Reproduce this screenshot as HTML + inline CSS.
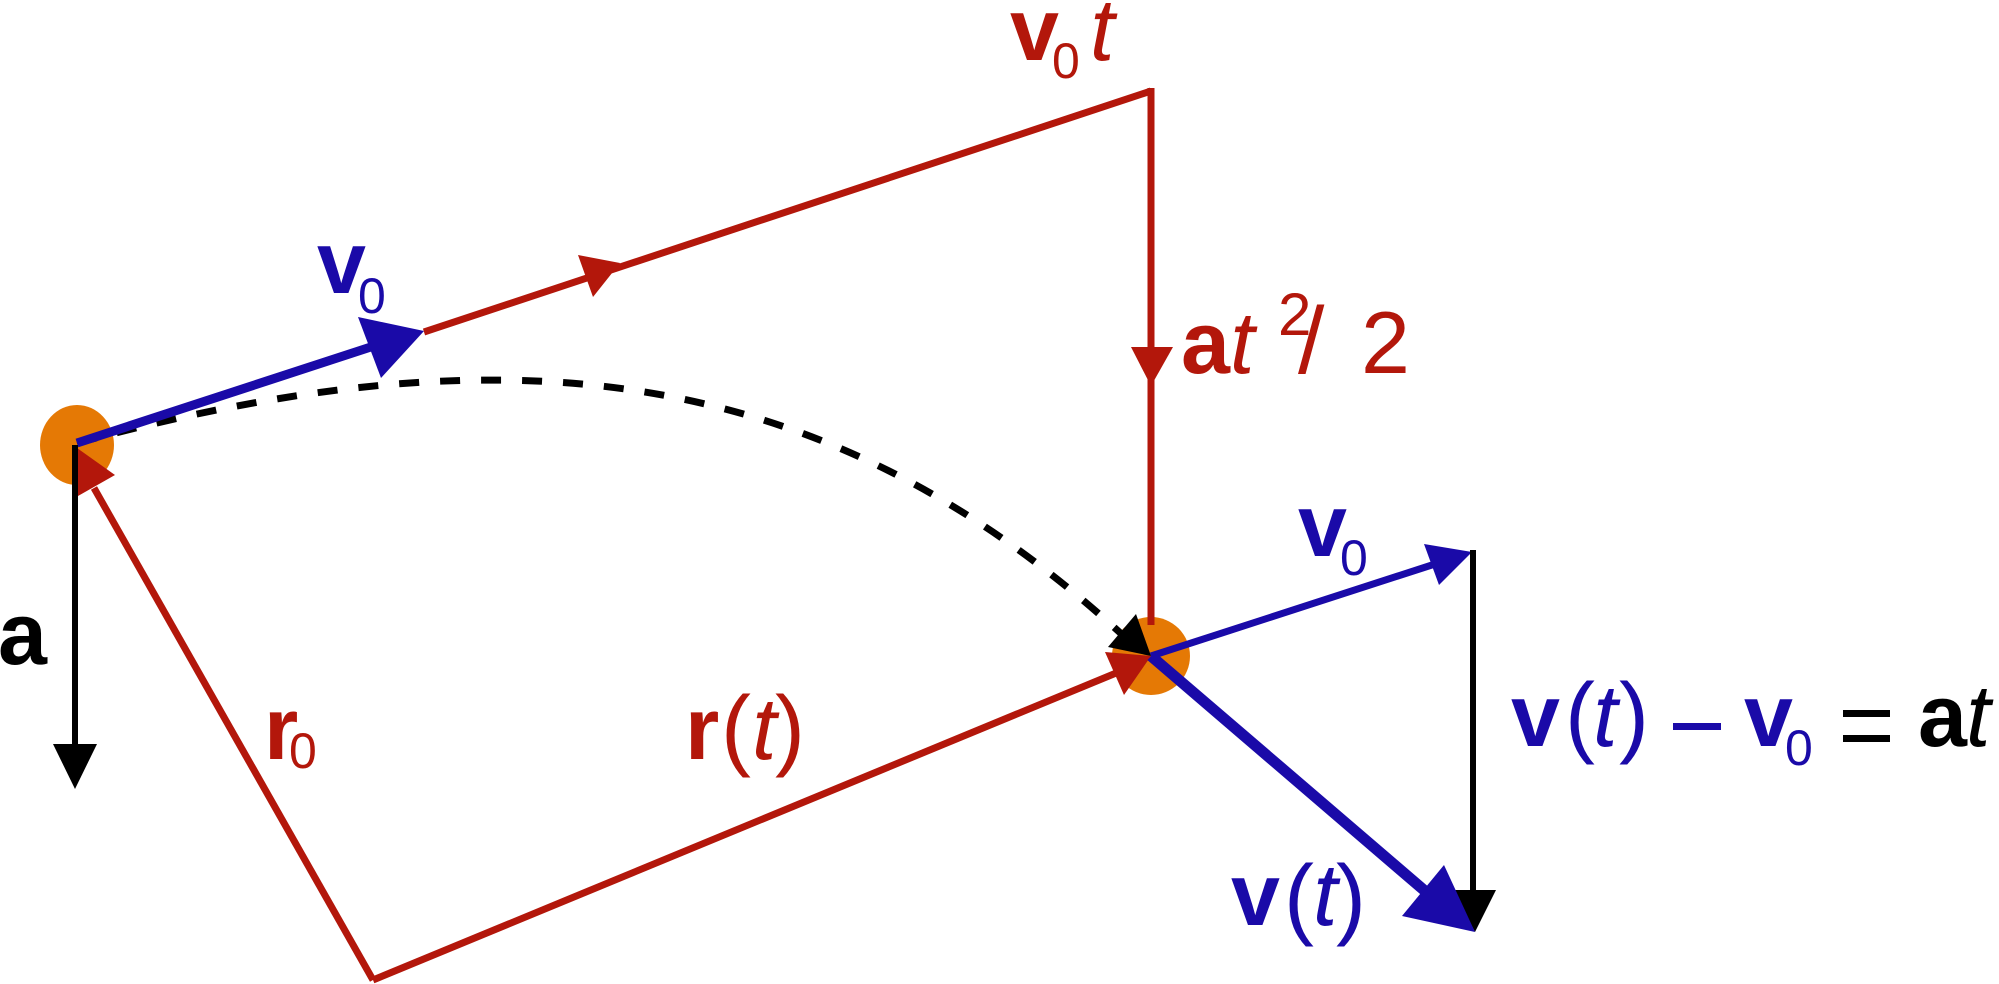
<!DOCTYPE html>
<html><head><style>html,body{margin:0;padding:0;background:#fff;overflow:hidden}svg{display:block}</style></head>
<body>
<svg width="1999" height="984" viewBox="0 0 1999 984" xmlns="http://www.w3.org/2000/svg" font-family="Liberation Sans, sans-serif">
<!-- particles -->
<ellipse cx="77" cy="445" rx="37" ry="40" fill="#e57905"/>
<circle cx="1151" cy="656" r="39" fill="#e57905"/>
<!-- v0 t red -->
<line x1="424" y1="332" x2="1151" y2="91" stroke="#b3170b" stroke-width="7"/>
<polygon points="578,255 593,297 620,263" fill="#b3170b"/>
<!-- at^2/2 vertical -->
<line x1="1151" y1="88" x2="1151" y2="625" stroke="#b3170b" stroke-width="7"/>
<polygon points="1131,347 1173,347 1151,386" fill="#b3170b"/>
<!-- r0 -->
<line x1="373" y1="980" x2="94" y2="488" stroke="#b3170b" stroke-width="7"/>
<polygon points="77,448 115,475 78,496" fill="#b3170b"/>
<!-- r(t) -->
<line x1="373" y1="980" x2="1121" y2="671" stroke="#b3170b" stroke-width="7"/>
<polygon points="1105,652 1124,695 1151,656" fill="#b3170b"/>
<!-- dashed trajectory -->
<path d="M77,443 C480,335 810,345 1128,640" fill="none" stroke="#000" stroke-width="7" stroke-dasharray="20,21"/>
<polygon points="1108,647 1136,614 1151,656" fill="#000"/>
<!-- blue v0 at start -->
<line x1="77" y1="443" x2="380" y2="344" stroke="#1a0aa8" stroke-width="9"/>
<polygon points="358,317 381,378 424,331" fill="#1a0aa8"/>
<!-- a black -->
<line x1="75" y1="445" x2="75" y2="750" stroke="#000" stroke-width="6"/>
<polygon points="53,744 97,744 75,789" fill="#000"/>
<!-- v0 at end -->
<line x1="1151" y1="656" x2="1435" y2="564" stroke="#1a0aa8" stroke-width="7"/>
<polygon points="1424,544 1439,585 1472,552" fill="#1a0aa8"/>
<!-- black vertical -->
<line x1="1473" y1="550" x2="1473" y2="895" stroke="#000" stroke-width="6"/>
<polygon points="1453,890 1496,890 1475,932" fill="#000"/>
<!-- v(t) thick blue -->
<line x1="1151" y1="656" x2="1425" y2="891" stroke="#1a0aa8" stroke-width="11"/>
<polygon points="1402,916 1444,865 1475,932" fill="#1a0aa8"/>

<!-- labels -->
<g font-size="88" font-weight="bold">
<text x="1010" y="60" fill="#b3170b">v</text>
<text x="317" y="293" fill="#1a0aa8">v</text>
<text x="1298" y="556" fill="#1a0aa8">v</text>
<text x="-2" y="664" fill="#000">a</text>
<text x="264" y="759" fill="#b3170b">r</text>
<text x="685" y="759" fill="#b3170b">r</text>
<text x="1181" y="373" fill="#b3170b">a</text>
<text x="1511" y="746" fill="#1a0aa8">v</text>
<text x="1744" y="746" fill="#1a0aa8">v</text>
<text x="1918" y="746" fill="#000">a</text>
<text x="1231" y="925" fill="#1a0aa8">v</text>
</g>
<g font-size="50">
<text x="1052" y="78" fill="#b3170b">0</text>
<text x="358" y="313" fill="#1a0aa8">0</text>
<text x="1340" y="575" fill="#1a0aa8">0</text>
<text x="289" y="768" fill="#b3170b">0</text>
<text x="1785" y="765" fill="#1a0aa8">0</text>
</g>
<g font-size="88" font-style="italic">
<text x="1090" y="60" fill="#b3170b">t</text>
<text x="1230" y="373" fill="#b3170b">t</text>
<text x="752" y="759" fill="#b3170b">t</text>
<text x="1593" y="746" fill="#1a0aa8">t</text>
<text x="1966" y="746" fill="#000">t</text>
<text x="1313" y="925" fill="#1a0aa8">t</text>
</g>
<text x="1278" y="335" font-size="60" fill="#b3170b">2</text>
<text x="1298" y="373" font-size="95" fill="#b3170b">/</text>
<text x="1361" y="373" font-size="88" fill="#b3170b">2</text>
<g font-size="90">
<text x="721" y="759" fill="#b3170b">(</text>
<text x="775" y="759" fill="#b3170b">)</text>
<text x="1565" y="746" fill="#1a0aa8">(</text>
<text x="1619" y="746" fill="#1a0aa8">)</text>
<text x="1284" y="928" fill="#1a0aa8">(</text>
<text x="1336" y="928" fill="#1a0aa8">)</text>
</g>
<rect x="1673" y="723" width="48" height="7" fill="#1a0aa8"/>
<rect x="1843" y="710" width="47" height="7" fill="#000"/>
<rect x="1843" y="735" width="47" height="7" fill="#000"/>
</svg>
</body></html>
